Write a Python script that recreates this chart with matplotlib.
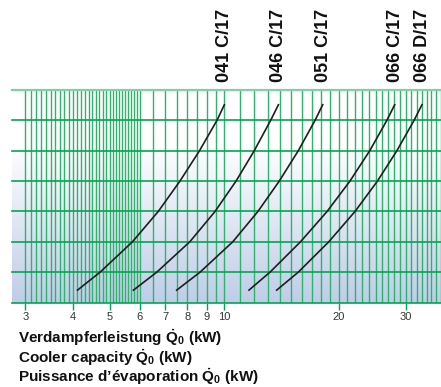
import numpy as np
import matplotlib
matplotlib.use('Agg')
import matplotlib.pyplot as plt
import matplotlib.transforms as mtransforms
from matplotlib.colors import LinearSegmentedColormap

plt.rcParams['font.family'] = ['Liberation Sans', 'DejaVu Sans']
plt.rcParams['mathtext.fontset'] = 'custom'
plt.rcParams['mathtext.rm'] = 'Liberation Sans'
plt.rcParams['mathtext.bf'] = 'Liberation Sans:bold'
plt.rcParams['mathtext.it'] = 'Liberation Sans:italic'

# ---- data ----
models = ['041 C/17', '046 C/17', '051 C/17', '066 C/17', '066 D/17']
levels = [0.39, 1.0, 2.0, 3.0, 4.0, 5.0, 6.0, 6.54]
cap_041 = [4.10, 4.72, 5.74, 6.71, 7.65, 8.61, 9.57, 10.03]
cap_046 = [5.75, 6.65, 8.12, 9.46, 10.74, 11.99, 13.24, 13.91]
cap_051 = [7.47, 8.64, 10.53, 12.26, 13.95, 15.65, 17.32, 18.18]
cap_066c = [11.57, 13.19, 15.86, 18.63, 21.39, 24.11, 26.74, 28.10]
cap_066d = [13.68, 15.65, 18.82, 22.06, 25.26, 28.41, 31.52, 33.14]

xtick_vals = [3, 4, 5, 6, 7, 8, 9, 10, 20, 30]
xtick_labels = ['3', '4', '5', '6', '7', '8', '9', '10', '20', '30']
title_lines = [r'Verdampferleistung $\mathbf{\dot{Q}_0}$ (kW)',
               r'Cooler capacity $\mathbf{\dot{Q}_0}$ (kW)',
               r'Puissance d’évaporation $\mathbf{\dot{Q}_0}$ (kW)']

caps = [cap_041, cap_046, cap_051, cap_066c, cap_066d]

# grid positions
grid_fine = np.round(np.arange(3.0, 6.001, 0.1), 2)
grid_mid = np.arange(6.5, 10.001, 0.5)
grid_coarse = np.arange(11, 38, 1)
vgrid = np.concatenate([grid_fine, grid_mid, grid_coarse])

W, H = 441, 387
fig = plt.figure(figsize=(W / 100, H / 100), dpi=100)
fig.patch.set_facecolor('white')

left, right, top, bottom = 12, 441, 90, 302.5
pos = [left / W, 1 - bottom / H, (right - left) / W, (bottom - top) / H]

# background gradient
bg = fig.add_axes(pos, zorder=0)
cmap = LinearSegmentedColormap.from_list('g', [(0.0, '#bfcde8'), (0.75, '#ffffff'), (1.0, '#ffffff')])
grad = np.linspace(0, 1, 256).reshape(-1, 1)
bg.imshow(grad, aspect='auto', cmap=cmap, origin='lower', extent=[0, 1, 0, 1])
bg.set_axis_off()

ax = fig.add_axes(pos, zorder=1)
ax.patch.set_alpha(0)
ax.set_xscale('log')
xmin, xmax = 2.77, 37.1
ax.set_xlim(xmin, xmax)
ax.set_ylim(0, 7)
for s in ax.spines.values():
    s.set_visible(False)

green_v = '#2db46a'
green_h = '#00a651'
ax.vlines(vgrid, 0, 7, colors=green_v, linewidth=1.0, zorder=1)
for yy in range(0, 7):
    ax.axhline(yy, color=green_h, linewidth=1.2, zorder=2, clip_on=False)
ax.axhline(7, color='#7fd1a4', linewidth=1.6, zorder=2, clip_on=False)

for cx in caps:
    ax.plot(cx, levels, color='#1e1e1e', linewidth=1.2, zorder=3, solid_capstyle='butt')

ax.set_xticks(xtick_vals)
ax.set_xticklabels(xtick_labels)
ax.xaxis.set_minor_locator(matplotlib.ticker.NullLocator())
ax.set_yticks([])
ax.tick_params(axis='x', length=5, width=1, color=green_h, pad=2,
               labelsize=8, labelcolor='#333333')

trans = mtransforms.blended_transform_factory(ax.transData, fig.transFigure)
for name, cx in zip(models, caps):
    ax.text(cx[-1], 1 - 82 / H, name, transform=trans, rotation=90,
            ha='center', va='bottom', fontsize=13, fontweight='bold', color='#111111')

for line, yb in zip(title_lines, [343, 363, 382]):
    fig.text(18 / W, 1 - yb / H, line, ha='left', va='baseline',
             fontsize=11, fontweight='bold', color='#111111')

fig.savefig('out.png', dpi=100)
